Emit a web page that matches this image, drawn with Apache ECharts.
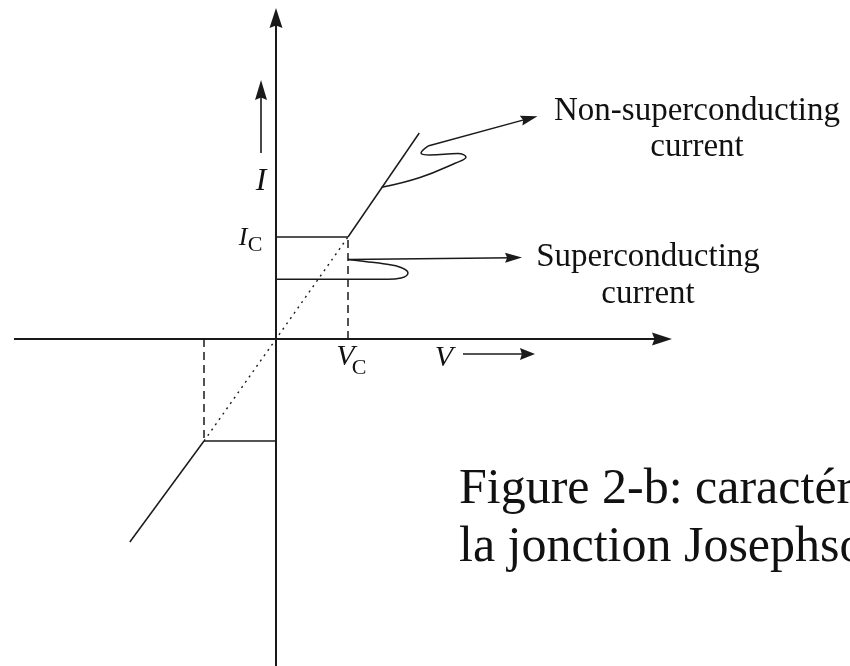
<!DOCTYPE html>
<html>
<head>
<meta charset="utf-8">
<script src="https://cdn.jsdelivr.net/npm/echarts@6/dist/echarts.min.js"></script>
<style>
  html, body { margin: 0; padding: 0; background: #fff; }
  #chart { width: 850px; height: 666px; }
</style>
</head>
<body>
<div id="chart"></div>
<script>
// I-V characteristic of a Josephson junction (V in units of Vc, I in units of Ic)

// Axes (shaft start, arrow end)
const axisArrows = [
  [[0, -3.3], [0, 3.147]],
  [[-3.639, 0], [5.361, 0]]
];
// Direction hints next to the I and V labels
const hintArrowI = [[-0.208, 1.824], [-0.208, 2.441]];
const hintArrowV = [[2.597, -0.147], [3.493, -0.147]];

// Supercurrent plateaus at +Ic and -Ic
const upperPlateau = [[0, 1], [1, 1]];
const lowerPlateau = [[0, -1], [-1, -1]];
// Resistive (normal) branches beyond Vc
const upperBranch = [[1, 1], [1.99, 2.02]];
const lowerBranch = [[-1, -1], [-2.03, -1.99]];
// Ohmic extrapolation through the origin
const ohmicLine = [[-1, -1], [1, 1]];
// Vc markers
const vcMarkerPos = [[1, 0], [1, 1]];
const vcMarkerNeg = [[-1, 0], [-1, -1]];

// Callout squiggles
const superBase = [[0, 0.585], [1.556, 0.585]];
const superLoop = [[1.556, 0.585], [1.736, 0.598], [1.833, 0.647], [1.736, 0.701],
                   [1.514, 0.735], [1.236, 0.760], [1.0, 0.779]];
const superArrow = [[1.0, 0.779], [3.299, 0.797]];
const normalLoop = [[1.468, 1.487], [2.0, 1.583], [2.486, 1.723], [2.639, 1.784],
                    [2.528, 1.819], [2.139, 1.804], [2.014, 1.824], [2.111, 1.892]];
const normalArrow = [[2.111, 1.892], [3.518, 2.163]];

const ink = '#1a1a1a';
const head = 'path://M0,0 L6.5,20 L0,17.5 L-6.5,20 Z';

function seg(data, type, width, smooth) {
  return {
    type: 'line', data: data, symbol: 'none', showSymbol: false, smooth: smooth || false,
    lineStyle: { color: ink, width: width || 1.5, type: type || 'solid', cap: 'butt' },
    silent: true, z: 2
  };
}
function arrows(list, size, width) {
  return {
    type: 'lines', coordinateSystem: 'cartesian2d', polyline: false,
    symbol: ['none', head], symbolSize: [0, size],
    lineStyle: { color: ink, width: width, opacity: 1, curveness: 0 },
    itemStyle: { color: ink },
    data: list.map(c => ({ coords: c })), silent: true, z: 3
  };
}

const serif = '"Liberation Serif", "Times New Roman", serif';
function txt(text, x, y, size, opts) {
  opts = opts || {};
  return {
    type: 'text', silent: true,
    style: {
      text: text, x: x, y: y, fill: '#111',
      font: (opts.italic ? 'italic ' : '') + size + 'px ' + serif,
      align: opts.align || 'center', textAlign: opts.align || 'center',
      verticalAlign: 'middle', textVerticalAlign: 'middle'
    }
  };
}

const chart = echarts.init(document.getElementById('chart'), null, { renderer: 'canvas' });
chart.setOption({
  animation: false,
  backgroundColor: '#fff',
  grid: { left: 0, right: 0, top: 0, bottom: 0 },
  xAxis: { type: 'value', min: -3.8333, max: 7.9722, show: false },
  yAxis: { type: 'value', min: -3.2059, max: 3.3235, show: false },
  series: [
    arrows(axisArrows, [13, 20], 2),
    arrows([hintArrowI], [12, 20], 1.6),
    arrows([hintArrowV], [12, 15], 1.6),
    arrows([superArrow, normalArrow], [10, 17], 1.5),
    seg(upperPlateau), seg(lowerPlateau), seg(upperBranch), seg(lowerBranch),
    seg(ohmicLine, [2, 4.5], 1.4),
    seg(vcMarkerPos, [8, 5]), seg(vcMarkerNeg, [8, 5]),
    seg(superBase), seg(superLoop, 'solid', 1.5, 0.45),
    seg(normalLoop, 'solid', 1.5, 0.45)
  ],
  graphic: [
    txt('I', 261, 181.7, 32, { italic: true }),
    txt('I', 243, 238.2, 26, { italic: true }),
    txt('C', 255, 245.6, 22),
    txt('V', 345.5, 356.9, 30, { italic: true }),
    txt('C', 359, 368.6, 22),
    txt('V', 444, 357.9, 30, { italic: true }),
    txt('Non-superconducting', 697, 110.9, 33),
    txt('current', 697, 146.9, 33),
    txt('Superconducting', 648, 257.2, 33),
    txt('current', 648, 293.9, 33),
    txt('Figure 2-b: caractéristique de', 459, 489.8, 50, { align: 'left' }),
    txt('la jonction Josephson', 459, 548.1, 50, { align: 'left' })
  ]
});
</script>
</body>
</html>
